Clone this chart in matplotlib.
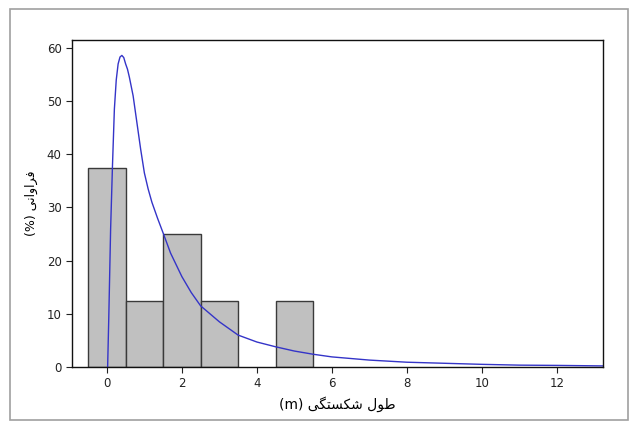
import matplotlib
matplotlib.use("Agg")
import matplotlib.pyplot as plt
from matplotlib.patches import Rectangle

# histogram of fracture lengths (bin centres, % frequency)
bin_centers = [0, 1, 2, 3, 5]
freq = [37.5, 12.5, 25, 12.5, 12.5]

# fitted curve
curve_x = [0.02, 0.05, 0.1, 0.15, 0.2, 0.25, 0.3, 0.35, 0.4, 0.45, 0.5, 0.55, 0.6, 0.7, 0.8,
           0.9, 1.0, 1.1, 1.2, 1.35, 1.5, 1.7, 2.0, 2.25, 2.5, 3.0, 3.5, 4.0, 4.5, 5.0, 5.5,
           6.0, 7.0, 8.0, 9.0, 10.0, 11.0, 12.0, 13.3]
curve_y = [0, 9, 26, 38, 48.5, 54, 57, 58.3, 58.6, 58.2, 57, 56, 54.5, 51, 46, 41, 36.5,
           33.5, 31, 28, 25.2, 21.4, 17, 14, 11.5, 8.5, 6, 4.7, 3.8, 3, 2.4, 1.9, 1.3,
           0.9, 0.7, 0.5, 0.35, 0.3, 0.2]

xticks = [0, 2, 4, 6, 8, 10, 12]
yticks = [0, 10, 20, 30, 40, 50, 60]

# persian labels written in visual order with presentation forms (no shaping in mpl)
xlabel = "(m) " + "\uFBFD\uFB95\uFE98\uFEB4\uFB91\uFEB7" + " " + "\uFEDD\uFEEE\uFEC3"
ylabel = "(%) " + "\uFBFD\uFEE7\uFE8D\uFEED\uFE8D\uFEAE\uFED3"

fig = plt.figure(figsize=(6.33, 4.23), dpi=100)
fig.patches.append(Rectangle((10/633, 3/423), 618/633, 411/423, transform=fig.transFigure,
                             fill=False, edgecolor="#a0a0a0", linewidth=1.2))
ax = fig.add_axes([72/633, 1-367/423, 531/633, 327/423])

ax.bar(bin_centers, freq, width=1.0, color="#c0c0c0", edgecolor="#3a3a3a", linewidth=1.0)
ax.plot(curve_x, curve_y, color="#3434c8", linewidth=1.0, clip_on=True)

ax.set_xlim(-0.93, 13.23)
ax.set_ylim(0, 61.5)
ax.set_xticks(xticks)
ax.set_yticks(yticks)
tick_font = ["Liberation Sans Narrow", "DejaVu Sans"]
ax.tick_params(direction="out", length=4, width=0.8, labelsize=8.5, colors="#222222")
for lab in ax.get_xticklabels() + ax.get_yticklabels():
    lab.set_family(tick_font)
for sp in ax.spines.values():
    sp.set_color("#111111")
    sp.set_linewidth(1.0)

ax.set_xlabel(xlabel, fontsize=10, family=["DejaVu Sans"], labelpad=4)
ax.set_ylabel(ylabel, fontsize=9, family=["DejaVu Sans"], labelpad=6)

fig.savefig("out.png", dpi=100)
